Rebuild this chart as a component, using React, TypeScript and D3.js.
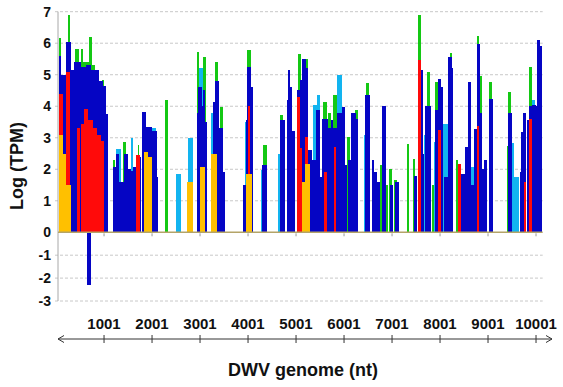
import React from 'react';
import * as d3 from 'd3';

const W = 563;
const H = 387;
const genomeLength = 10140;
const xTickValues = [1001, 2001, 3001, 4001, 5001, 6001, 7001, 8001, 9001, 10001];
const yTickValues = [-3, -2, -1, 0, 1, 2, 3, 4, 5, 6, 7];

type Seg = [number, number, number];

// [start nt, end nt, log(TPM)]
const greenSeries: Seg[] = [
  [55, 100, 6.15], [240, 290, 6.9], [400, 470, 5.83], [520, 570, 5.83], [570, 695, 5.4],
  [695, 750, 6.2], [750, 820, 5.3], [950, 1005, 4.83], [1180, 1235, 2.3], [1390, 1460, 2.87],
  [1700, 1735, 2.76], [2060, 2110, 2.3], [2270, 2340, 4.2], [2930, 2985, 5.72], [3055, 3125, 5.57],
  [3310, 3370, 5.4], [3415, 3470, 3.98], [3975, 4060, 5.78], [4320, 4390, 2.76], [4665, 4735, 3.71],
  [5035, 5105, 5.67], [5190, 5245, 5.51], [5570, 5640, 4.12], [5675, 5730, 3.77], [5780, 5850, 4.35],
  [6070, 6125, 3.03], [6230, 6285, 3.87], [6460, 6525, 4.74], [6750, 6790, 2.13], [6875, 6925, 1.5],
  [6940, 6990, 2.02], [7040, 7100, 1.67], [7305, 7360, 2.81], [7430, 7485, 2.34], [7540, 7600, 6.89],
  [7735, 7790, 5.09], [7825, 7875, 1.5], [7895, 7980, 4.77], [8210, 8245, 5.7], [8325, 8380, 2.28],
  [8765, 8810, 6.22], [8835, 8870, 4.95], [9020, 9075, 4.77], [9390, 9425, 2.73], [9425, 9480, 4.45],
  [9535, 9575, 1.6], [9855, 9910, 5.25],
];

const lightBlueSeries: Seg[] = [
  [1250, 1355, 2.65], [1560, 1610, 3.0], [2000, 2085, 3.3], [2500, 2605, 1.85], [2755, 2860, 3.0],
  [2985, 3055, 5.2], [3230, 3275, 3.77], [3940, 3975, 3.5], [4270, 4320, 1.97], [4630, 4665, 2.5],
  [5360, 5430, 4.03], [5430, 5500, 4.35], [5850, 5965, 4.98], [6415, 6460, 3.08], [7665, 7710, 3.1],
  [7875, 7930, 2.85], [8070, 8175, 3.45], [8645, 8715, 2.07], [9495, 9550, 2.84], [9550, 9645, 1.76],
  [9910, 9980, 4.19],
];

const darkBlueSeries: Seg[] = [
  [55, 100, 5.6], [100, 210, 5.0], [210, 310, 6.05], [310, 380, 5.15], [380, 520, 5.4],
  [520, 625, 5.25], [625, 730, 5.3], [730, 900, 5.15], [900, 970, 4.8], [970, 1040, 4.65],
  [1040, 1085, 3.75], [1180, 1250, 2.07], [1250, 1320, 2.5], [1320, 1420, 1.6], [1420, 1490, 2.5],
  [1490, 1560, 2.0], [1560, 1610, 1.95], [1610, 1680, 2.07], [1680, 1770, 2.4], [1790, 1875, 3.82],
  [1875, 2000, 3.35], [2000, 2100, 3.2], [2100, 2130, 1.75], [2930, 2965, 3.8], [2965, 3035, 4.6],
  [3035, 3060, 4.0], [3060, 3105, 4.5], [3105, 3140, 3.5], [3265, 3310, 4.14], [3310, 3400, 4.8],
  [3400, 3470, 3.3], [3470, 3520, 1.9], [3900, 3960, 1.5], [3960, 3985, 3.56], [3985, 4060, 5.25],
  [4060, 4110, 4.6], [4300, 4390, 2.13], [4670, 4770, 3.56], [4805, 4840, 4.2], [4840, 4880, 5.14],
  [4880, 4910, 4.6], [4910, 4980, 3.2], [5030, 5085, 4.5], [5085, 5120, 4.83], [5120, 5200, 5.51],
  [5200, 5245, 5.2], [5245, 5330, 2.6], [5330, 5410, 2.28], [5410, 5500, 3.87], [5500, 5550, 1.76],
  [5550, 5675, 3.6], [5675, 5730, 3.3], [5730, 5780, 3.56], [5780, 5850, 3.3], [5850, 5950, 3.77],
  [5950, 6020, 3.98], [6020, 6070, 2.13], [6090, 6140, 2.3], [6140, 6250, 3.77], [6250, 6285, 3.6],
  [6440, 6540, 4.35], [6575, 6630, 2.28], [6630, 6695, 1.9], [6695, 6750, 1.6], [6790, 6875, 4.0],
  [6960, 7015, 1.5], [7060, 7150, 1.6], [7460, 7525, 1.8], [7540, 7600, 5.0], [7600, 7640, 5.14],
  [7640, 7665, 2.5], [7695, 7735, 4.0], [7735, 7810, 4.0], [7895, 7965, 3.87], [7965, 8020, 4.88],
  [8020, 8070, 4.6], [8090, 8160, 1.76], [8175, 8245, 5.57], [8245, 8280, 5.2], [8380, 8440, 2.0],
  [8440, 8520, 1.86], [8520, 8580, 2.7], [8580, 8645, 4.77], [8645, 8715, 1.5], [8715, 8765, 3.29],
  [8765, 8835, 5.99], [8835, 8870, 3.8], [8870, 8925, 2.02], [8925, 8975, 2.3], [9020, 9110, 4.24],
  [9410, 9495, 3.77], [9665, 9690, 1.9], [9690, 9735, 3.19], [9735, 9785, 3.77], [9805, 9855, 3.56],
  [9855, 9910, 4.0], [9910, 9990, 4.03], [9990, 10015, 4.0], [10015, 10085, 6.1], [10085, 10130, 5.9],
  [640, 730, -2.3],
];

const redSeries: Seg[] = [
  [55, 140, 4.4], [210, 290, 5.1], [430, 490, 3.3], [520, 580, 3.45], [580, 670, 3.9],
  [670, 770, 3.55], [770, 850, 3.3], [850, 940, 3.1], [940, 990, 2.9], [1670, 1740, 2.45],
  [3990, 4050, 4.0], [5030, 5085, 4.3], [5085, 5130, 2.66], [5190, 5245, 3.03], [5580, 5640, 1.92],
  [5785, 5830, 2.7], [7540, 7610, 5.46], [7965, 8020, 3.24], [8380, 8440, 2.18], [8765, 8815, 3.37],
  [9755, 9800, 1.6], [9855, 9910, 3.6],
];

const orangeSeries: Seg[] = [
  [55, 140, 3.1], [140, 210, 2.5], [210, 310, 1.5], [1840, 1920, 2.55], [1920, 1990, 2.4],
  [2720, 2860, 1.6], [2990, 3100, 2.07], [3230, 3350, 2.5], [3960, 4090, 1.85], [5130, 5190, 1.6],
  [5190, 5290, 2.18],
];

const layers = [
  { key: 'green', color: '#14c814', data: greenSeries },
  { key: 'lightblue', color: '#12b4f0', data: lightBlueSeries },
  { key: 'darkblue', color: '#0505c4', data: darkBlueSeries },
  { key: 'red', color: '#ff0a0a', data: redSeries },
  { key: 'orange', color: '#ffc000', data: orangeSeries },
];

const FONT = 'Liberation Sans, Arial, sans-serif';

export default function App() {
  const x = d3.scaleLinear().domain([0, genomeLength]).range([56, 542.7]);
  const y = d3.scaleLinear().domain([-3, 0, 7]).range([301, 232.3, 11.7]);
  const plotLeft = 58;
  const plotRight = 542.7;
  const arrowY = 339;

  return (
    <svg width={W} height={H} style={{ position: 'absolute', left: 0, top: 0, background: '#fff' }}>
      <rect x={0} y={0} width={W} height={H} fill="#fff" />
      {/* grid lines */}
      {yTickValues.filter((v) => v !== 0).map((v) => (
        <line key={`g${v}`} x1={plotLeft - 3} x2={plotRight} y1={y(v)} y2={y(v)}
          stroke="#c8c8c8" strokeWidth={1} strokeDasharray="3,2" />
      ))}
      {/* bars */}
      {layers.map((layer) => (
        <g key={layer.key} fill={layer.color} shapeRendering="crispEdges">
          {layer.data.map((d, i) => {
            const x0 = x(d[0]);
            const x1 = x(d[1]);
            const yv = y(d[2]);
            const y0 = y(0);
            return (
              <rect key={i} x={x0} width={Math.max(0.5, x1 - x0)} y={Math.min(yv, y0)}
                height={Math.abs(yv - y0)} />
            );
          })}
        </g>
      ))}
      {/* left axis */}
      <line x1={plotLeft} x2={plotLeft} y1={y(7)} y2={y(-3)} stroke="#a8a8a8" strokeWidth={1} />
      {/* zero baseline */}
      <line x1={plotLeft} x2={plotRight} y1={y(0)} y2={y(0)} stroke="#b4a468" strokeWidth={1.5} />
      {xTickValues.map((t) => (
        <line key={`bt${t}`} x1={x(t)} x2={x(t)} y1={y(0) + 1} y2={y(0) + 4} stroke="#999" strokeWidth={1} />
      ))}
      {/* y tick labels */}
      {yTickValues.map((v) => (
        <text key={`yl${v}`} x={51} y={y(v)} dy="0.35em" textAnchor="end"
          fontFamily={FONT} fontWeight="bold" fontSize={14} fill="#111">{v}</text>
      ))}
      {/* x tick labels */}
      {xTickValues.map((t) => (
        <text key={`xl${t}`} x={x(t)} y={329} textAnchor="middle"
          fontFamily={FONT} fontWeight="bold" fontSize={15} fill="#111">{t}</text>
      ))}
      {/* arrow axis */}
      <line x1={plotLeft} x2={552} y1={arrowY} y2={arrowY} stroke="#333" strokeWidth={1} />
      <path d={`M${plotLeft + 6},${arrowY - 3.5} L${plotLeft},${arrowY} L${plotLeft + 6},${arrowY + 3.5}`}
        fill="none" stroke="#333" strokeWidth={1} />
      <path d={`M${552 - 6},${arrowY - 3.5} L552,${arrowY} L${552 - 6},${arrowY + 3.5}`}
        fill="none" stroke="#333" strokeWidth={1} />
      {xTickValues.map((t) => (
        <line key={`at${t}`} x1={x(t)} x2={x(t)} y1={arrowY - 4} y2={arrowY + 4} stroke="#333" strokeWidth={1} />
      ))}
      {/* titles */}
      <text x={303} y={376} textAnchor="middle" fontFamily={FONT} fontWeight="bold" fontSize={18} fill="#111">
        DWV genome (nt)
      </text>
      <text transform="translate(23,166) rotate(-90)" textAnchor="middle" fontFamily={FONT}
        fontWeight="bold" fontSize={18} fill="#111">
        Log (TPM)
      </text>
    </svg>
  );
}
